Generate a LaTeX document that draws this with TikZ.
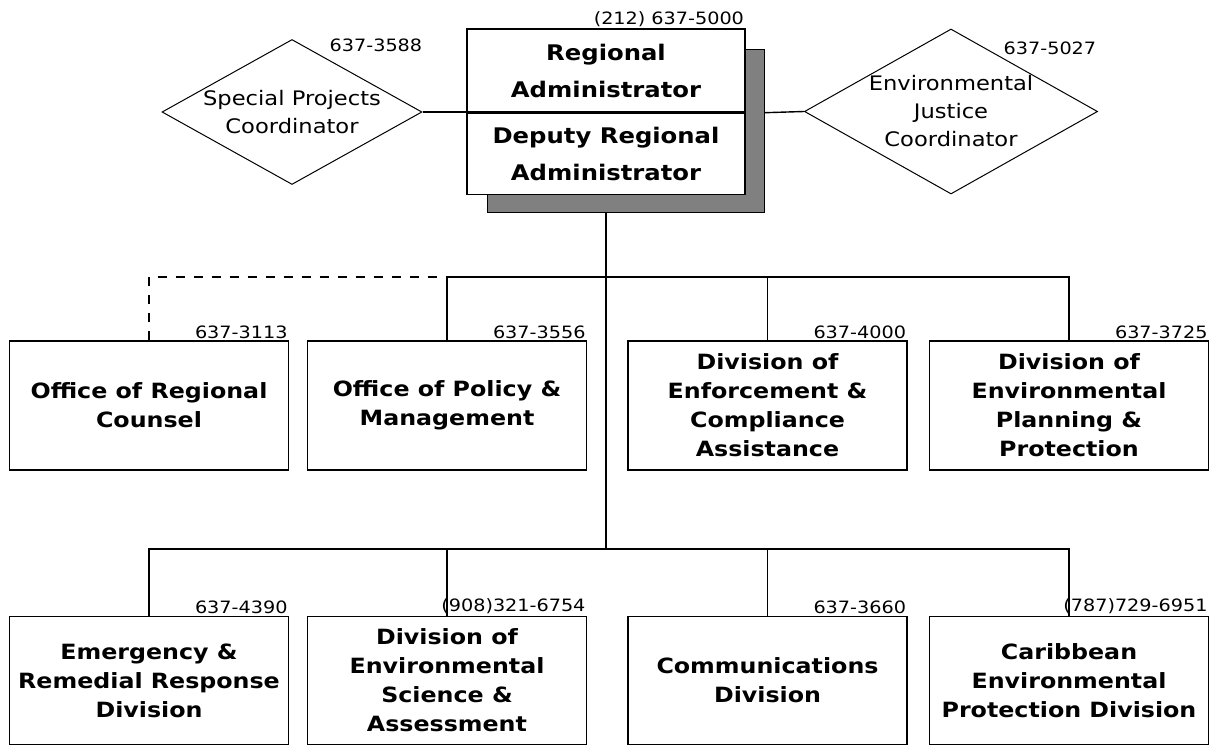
\documentclass[tikz,border=0pt]{standalone}
\usepackage{fontspec}
\usepackage{tikz}
\usetikzlibrary{positioning,shapes.geometric}
\newfontfamily\orgfont[FakeStretch=1.13]{DejaVu Sans}

\begin{document}
\begin{tikzpicture}[x=1pt,y=-1pt,
  unit/.style={draw,line width=1.4pt,fill=white,inner sep=0pt,minimum width=279pt,minimum height=129pt,align=center,font=\orgfont\bfseries\fontsize{21}{29}\selectfont},
  head/.style={unit,minimum width=278pt,font=\orgfont\bfseries\fontsize{21.5}{37}\selectfont},
  coord/.style={draw,line width=1pt,shape=diamond,aspect=1.8,inner sep=0pt,align=center,font=\orgfont\fontsize{20}{28}\selectfont},
  phone/.style={inner sep=1.5pt,font=\orgfont\fontsize{17}{19}\selectfont},
  link/.style={line width=1.4pt}]
\useasboundingbox (0,0) rectangle (1214,746);
% shadow behind the top box
\fill[black!50,draw=black,line width=1pt] (487,50) rectangle (764,212);
\node[head,minimum height=83pt] (ra) at (606,70.5) {Regional\\Administrator};
\node[head,minimum height=81pt,below=0pt of ra] (dra) {Deputy Regional\\Administrator};
\node[phone,anchor=south east] at (ra.north east) {(212) 637-5000};

\node[coord,minimum width=260pt,minimum height=145pt] (spc) at (292,112) {Special Projects\\Coordinator};
\node[coord,minimum width=292pt,minimum height=165pt] (ejc) at (951,111.5) {Environmental\\Justice\\Coordinator};
\node[phone,anchor=base west] at ([shift={(36,13)}]spc.north) {637-3588};
\node[phone,anchor=base west] at ([shift={(51,26)}]ejc.north) {637-5027};

% first row
\node[unit] (orc) at (149,405.5) {Office of Regional\\Counsel};
\node[unit] (opm) at (447,405.5) {Office of Policy \&\\Management};
\node[unit] (dec) at (767.5,405.5) {Division of\\Enforcement \&\\Compliance\\Assistance};
\node[unit] (dep) at (1069,405.5) {Division of\\Environmental\\Planning \&\\Protection};
\node[phone,anchor=south east] at (orc.north east) {637-3113};
\node[phone,anchor=south east] at (opm.north east) {637-3556};
\node[phone,anchor=south east] at (dec.north east) {637-4000};
\node[phone,anchor=south east] at (dep.north east) {637-3725};

% second row
\node[unit,minimum height=128pt] (err) at (149,680.5) {Emergency \&\\Remedial Response\\Division};
\node[unit,minimum height=128pt] (des) at (447,680.5) {Division of\\Environmental\\Science \&\\Assessment};
\node[unit,minimum height=128pt] (cd) at (767.5,680.5) {Communications\\Division};
\node[unit,minimum height=128pt] (cep) at (1069,680.5) {Caribbean\\Environmental\\Protection Division};
\node[phone,anchor=south east] at (err.north east) {637-4390};
\node[phone,anchor=south east] at (des.north east) {(908)321-6754};
\node[phone,anchor=south east] at (cd.north east) {637-3660};
\node[phone,anchor=south east] at (cep.north east) {(787)729-6951};

\coordinate (bar1) at (606,277);
\coordinate (bar2) at (606,549);
\draw[link] (spc.east) -- (spc.east -| ra.south west);
\draw[link] ([xshift=19pt]ra.south east) -- (ejc.west);
\draw[link] ([yshift=-18pt]dra.south) -- (bar2);
\draw[link,dash pattern=on 9pt off 9pt] (orc.north) |- (opm.north |- bar1);
\draw[link] (opm.north) |- (dep.north |- bar1) -- (dep.north);
\draw[link] (dec.north) -- (dec.north |- bar1);
\draw[link] (err.north) |- (cep.north |- bar2) -- (cep.north);
\draw[link] (des.north) -- (des.north |- bar2);
\draw[link] (cd.north) -- (cd.north |- bar2);
\end{tikzpicture}
\end{document}
